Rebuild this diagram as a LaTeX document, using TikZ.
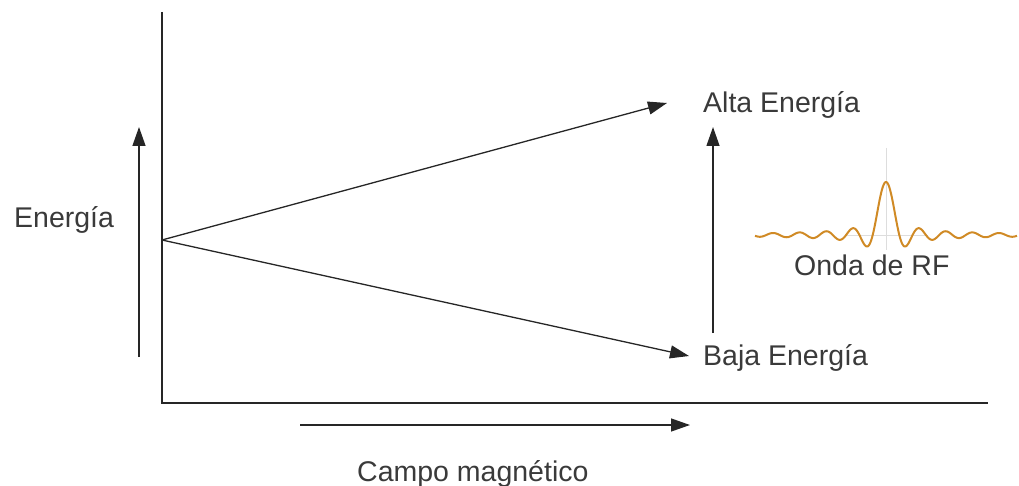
\documentclass[tikz,border=0pt]{standalone}
\usepackage{fontspec}
\setmainfont{Liberation Sans}
\usetikzlibrary{arrows.meta}
\definecolor{txt}{HTML}{3A3A3A}
\definecolor{rfwave}{HTML}{D08A25}
\definecolor{guide}{HTML}{DDDDDD}
\begin{document}
\begin{tikzpicture}[x=1pt,y=-1pt,
  lbl/.style={inner sep=0pt,anchor=base west,text=txt,font=\fontsize{28.5}{34}\selectfont},
  axisline/.style={line width=1.3pt,black!85},
  arr/.style={line width=1.3pt,black!85,-{Triangle[length=19pt,width=13pt]}}]
\useasboundingbox (0,0) rectangle (1019,486);
% axes
\coordinate (ytop) at (162,12);
\coordinate (orig) at (162,403);
\coordinate (xend) at (988,403);
\draw[axisline] (ytop) -- (orig) -- (xend);
% labels
\node[lbl] (energia) at (14,228) {Energía};
\node[lbl] (alta) at (703,113) {Alta Energía};
\node[lbl] (baja) at (703,365) {Baja Energía};
\node[lbl] (campo) at (357,481) {Campo magnético};
\node[lbl] (onda) at (794,276) {Onda de RF};
% energy arrow
\coordinate (e0) at (139,357);
\coordinate (e1) at (139,127);
\draw[arr] (e0) -- (e1);
% field arrow
\coordinate (f0) at (300,425);
\coordinate (f1) at (690,425);
\draw[arr] (f0) -- (f1);
% splitting
\coordinate (split) at (162,240);
\coordinate (up) at (667,103);
\coordinate (down) at (689,356);
\draw[arr] (split) -- (up);
\draw[arr] (split) -- (down);
% transition arrow
\coordinate (t0) at (713,333);
\coordinate (t1) at (713,127);
\draw[arr] (t0) -- (t1);
% RF wave
\coordinate (rfc) at (886,235);
\draw[guide,line width=0.8pt] (886,148) -- (886,250);
\draw[guide,line width=0.8pt] (845,235) -- (928,235);
\draw[rfwave,line width=2pt,line join=round,domain=-9.85:9.85,samples=400,smooth]
  plot ({886+\x*13.3},{235-53*sin(\x*180)/(\x*3.14159)});
\end{tikzpicture}
\end{document}
